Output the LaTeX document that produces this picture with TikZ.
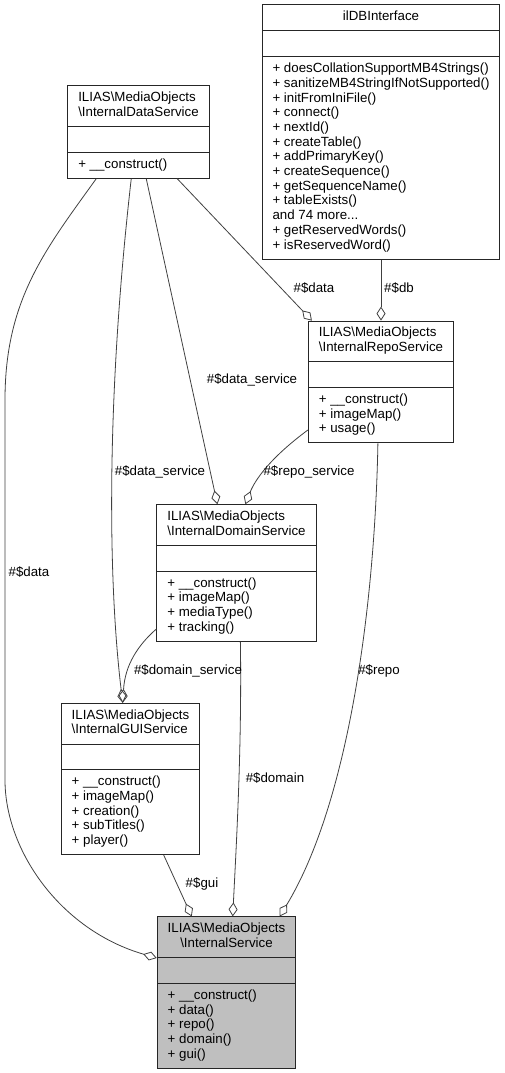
\documentclass[tikz,border=0pt]{standalone}
\usepackage{fontspec}
\setmainfont{Liberation Sans}
\usetikzlibrary{arrows.meta,shapes.multipart}
\tikzstyle{umlclass}=[rectangle split, rectangle split parts=3, draw=black!85, line width=1pt,
    font=\fontsize{13.3}{14.7}\selectfont, align=left, inner xsep=10.5pt, inner ysep=5.1pt,
    rectangle split part align={center,left,left}]
\tikzstyle{agg}=[draw=black!75, line width=0.8pt, -{Diamond[open,length=14pt,width=9pt]}]
\tikzstyle{lbl}=[font=\fontsize{13.3}{14.7}\selectfont, inner sep=0pt]
\newcommand{\umlclass}{\node[umlclass]}

\begin{document}
\begin{tikzpicture}[x=1pt, y=-1pt
    ,every edge/.style={agg}
]
\useasboundingbox (0,0) rectangle (505,1073);
\umlclass (db) at (381,132) {\strut ilDBInterface
    \nodepart{second}\strut
    \nodepart{third}\strut + doesCollationSupportMB4Strings()\\\strut + sanitizeMB4StringIfNotSupported()\\
    \strut + initFromIniFile()\\\strut + connect()\\\strut + nextId()\\\strut + createTable()\\
    \strut + addPrimaryKey()\\\strut + createSequence()\\\strut + getSequenceName()\\
    \strut + tableExists()\\\strut and 74 more...\\\strut + getReservedWords()\\\strut + isReservedWord()};
\umlclass (dataserv) at (138.5,132) {\strut ILIAS\textbackslash MediaObjects\\\strut\textbackslash InternalDataService
    \nodepart{second}\strut
    \nodepart{third}\strut + \_\_construct()};
\umlclass (reposerv) at (381,382) {\strut ILIAS\textbackslash MediaObjects\\\strut\textbackslash InternalRepoService
    \nodepart{second}\strut
    \nodepart{third}\strut + \_\_construct()\\\strut + imageMap()\\\strut + usage()};
\umlclass (domainserv) at (236.5,573) {\strut ILIAS\textbackslash MediaObjects\\\strut\textbackslash InternalDomainService
    \nodepart{second}\strut
    \nodepart{third}\strut + \_\_construct()\\\strut + imageMap()\\\strut + mediaType()\\\strut + tracking()};
\umlclass (guiserv) at (130.5,779) {\strut ILIAS\textbackslash MediaObjects\\\strut\textbackslash InternalGUIService
    \nodepart{second}\strut
    \nodepart{third}\strut + \_\_construct()\\\strut + imageMap()\\\strut + creation()\\\strut + subTitles()\\\strut + player()};
\umlclass[fill=black!25] (intserv) at (226.5,992.5) {\begin{tabular}{@{}c@{}}ILIAS\textbackslash MediaObjects\\\textbackslash InternalService\end{tabular}
    \nodepart{second}\strut
    \nodepart{third}\strut + \_\_construct()\\\strut + data()\\\strut + repo()\\\strut + domain()\\\strut + gui()};

\path
([xshift=79pt]dataserv.south west) edge ([xshift=61pt]domainserv.north west)
([xshift=110pt]dataserv.south west) edge ([xshift=4pt]reposerv.north west)
(db.south) edge (reposerv.north)
([xshift=103pt]guiserv.south west) edge ([xshift=35pt]intserv.north west)
;
\draw[agg] ([xshift=29pt]dataserv.south west) .. controls (45,250) and (5,300) .. (5,400)
    -- (5,780) .. controls (5,850) and (60,930) .. ([yshift=34.5pt]intserv.west);
\draw[agg] ([xshift=64pt]dataserv.south west) .. controls (106,400) and (108,580) .. ([xshift=62pt]guiserv.north west);
\draw[agg] ([yshift=-48pt]reposerv.west) .. controls (270,458) and (255,480) .. ([xshift=89pt]domainserv.north west);
\draw[agg] ([yshift=-56pt]domainserv.west) .. controls (138,645) and (125,665) .. ([xshift=62pt]guiserv.north west);
\draw[agg] ([xshift=84pt]domainserv.south west) .. controls (242,750) and (236,850) .. ([xshift=76pt]intserv.north west);
\draw[agg] ([xshift=70pt]reposerv.south west) .. controls (375,600) and (350,800) .. ([xshift=123pt]intserv.north west);

\node[lbl] (ldata) at (29,572) {\#\$data};
\node[lbl] (ldatadom) at (252,380) {\#\$data\_service};
\node[lbl] (ldatagui) at (160,472) {\#\$data\_service};
\node[lbl] (ldatarepo) at (314,288) {\#\$data};
\node[lbl] (ldb) at (399,288) {\#\$db};
\node[lbl] (lreposerv) at (309,472) {\#\$repo\_service};
\node[lbl] (ldomainserv) at (188,671) {\#\$domain\_service};
\node[lbl] (ldomain) at (275,778) {\#\$domain};
\node[lbl] (lrepo) at (379,671) {\#\$repo};
\node[lbl] (lgui) at (202,884) {\#\$gui};
\end{tikzpicture}
\end{document}
